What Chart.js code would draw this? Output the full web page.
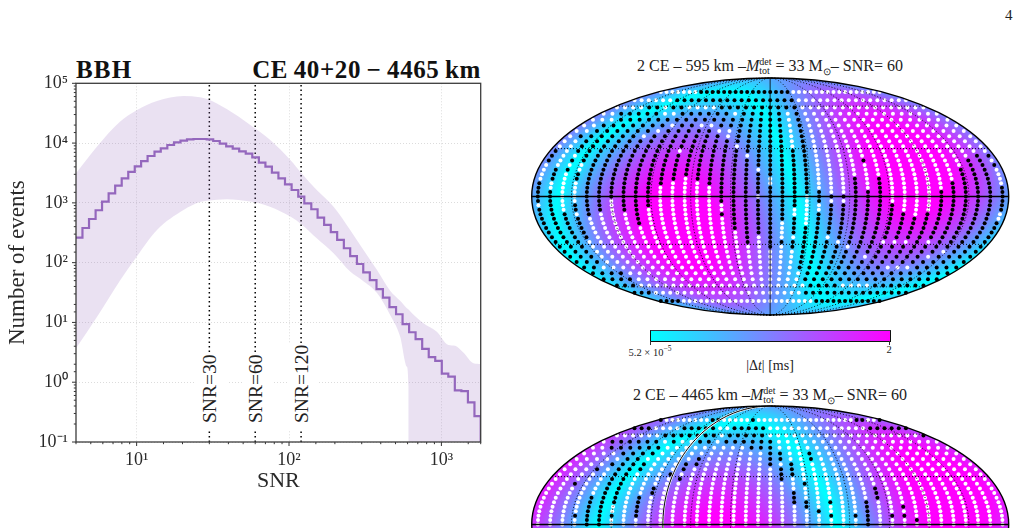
<!DOCTYPE html>
<html>
<head>
<meta charset="utf-8">
<script src="https://cdn.jsdelivr.net/npm/chart.js@4"></script>
<style>
  html, body { margin: 0; padding: 0; background: #fff; width: 1021px; height: 528px; overflow: hidden; }
  body { position: relative; font-family: "Liberation Serif", serif; color: #222; }
  canvas { position: absolute; }
  .txt { position: absolute; white-space: nowrap; line-height: 1; }
  .hd { font-weight: bold; font-size: 25px; color: #111; }
  .snr { font-size: 19.5px; background: #fff; padding: 4px 1px 7px 7px; transform-origin: 0 0; transform: rotate(-90deg); }
  .sky-title { font-size: 16px; transform: translateX(-50%); }
  .stack { display: inline-block; vertical-align: -3px; font-size: 10px; line-height: 9px; text-align: left; }
  .stack span { display: block; }
  #cbar { position: absolute; left: 650px; top: 330px; width: 239px; height: 10px; border: 1px solid #111; border-top-color: #334; background: linear-gradient(to right, #00ffff, #ff00ff); }
  .tick { position: absolute; top: 341px; width: 1px; height: 4px; background: #333; }
</style>
</head>
<body>
<div class="txt" style="left:1005px;top:8px;font-size:15px">4</div>

<div class="txt hd" style="left:76px;top:57px;letter-spacing:1.2px">BBH</div>
<div class="txt hd" style="right:540px;top:57px;letter-spacing:0.6px">CE&#8201;40+20&#8201;−&#8201;4465&#8201;km</div>

<canvas id="snrChart" width="500" height="460" style="left:0;top:50px"></canvas>
<div class="txt snr" style="left:196px;top:430px">SNR=30</div>
<div class="txt snr" style="left:242px;top:430px">SNR=60</div>
<div class="txt snr" style="left:288px;top:430px">SNR=120</div>

<div class="txt sky-title" style="left:770px;top:57px">2 CE – 595 km –<i>M</i><span class="stack"><span>det</span><span>tot</span></span> = 33 M<sub style="font-size:10px">⊙</sub>– SNR= 60</div>
<canvas id="skyTop" width="490" height="254" style="left:525px;top:70px"></canvas>

<div id="cbar"></div>
<div class="tick" style="left:650px"></div>
<div class="tick" style="left:889px"></div>
<div class="txt" style="left:650px;top:345px;font-size:10.5px;transform:translateX(-50%)">5.2 × 10<sup style="font-size:7.5px">−5</sup></div>
<div class="txt" style="left:889px;top:345px;font-size:10.5px;transform:translateX(-50%)">2</div>
<div class="txt" style="left:770px;top:359px;font-size:14px;transform:translateX(-50%)">|Δ<i>t</i>| [ms]</div>

<div class="txt sky-title" style="left:770px;top:386px">2 CE – 4465 km –<i>M</i><span class="stack"><span>det</span><span>tot</span></span> = 33 M<sub style="font-size:10px">⊙</sub>– SNR= 60</div>
<canvas id="skyBottom" width="490" height="254" style="left:525px;top:398px"></canvas>

<script>
// histogram of events per SNR bin
const snrEdges = [4.00, 4.41, 4.87, 5.38, 5.93, 6.55, 7.23, 7.98, 8.81, 9.72, 10.7, 11.8, 13.1, 14.4, 15.9, 17.6, 19.4, 21.4, 23.6, 26.1, 28.8, 31.8, 35.1, 38.7, 42.7, 47.1, 52.0, 57.4, 63.4, 70.0, 77.2, 85.2, 94.1, 104, 115, 126, 140, 154, 170, 188, 207, 229, 252, 279, 307, 339, 375, 413, 456, 504, 556, 614, 677, 748, 826, 911, 1006, 1110, 1225, 1352, 1493, 1648, 1811];
const eventCounts = [262, 380, 537, 752, 1047, 1445, 1940, 2570, 3290, 4070, 5010, 6080, 7180, 8180, 9290, 10300, 10960, 11560, 11700, 11700, 11560, 10840, 9770, 8830, 8060, 7280, 6650, 5780, 4700, 4030, 3200, 2570, 2040, 1640, 1270, 984, 782, 566, 427, 324, 240, 174, 129, 95, 69, 51, 36, 26, 18, 13.7, 9.4, 6.85, 5.24, 3.6, 2.62, 2.27, 1.39, 1.24, 0.73, 0.71, 0.46, 0.27];

// uncertainty band
const bandSnr = [4, 5.5, 7.8, 10, 13.6, 20.3, 26, 29, 39, 55.7, 75, 102, 122, 152, 196, 252, 302, 378, 461, 536, 593, 608, 609, 762, 933, 1112, 1230, 1393, 1622, 1811];
const bandUpper = [3130, 8800, 23000, 35500, 50600, 61400, 58500, 54600, 37000, 20100, 11400, 5210, 3040, 1640, 865, 352, 175, 75, 34, 23, 17.3, 16.5, 16.4, 9.7, 7, 4.2, 4.07, 3.13, 2.08, 2.02];
const bandLower = [3.7, 12.5, 51, 126, 352, 760, 1035, 1090, 1150, 1050, 865, 589, 427, 256, 144, 71, 51, 31, 13.3, 5.8, 1.82, 0.85, 0.1, 0.1, 0.1, 0.1, 0.1, 0.1, 0.1, 0.1];

const snrMarks = [30, 60, 120];

// sky grid: rows from +20 down to -20 (sin lat = row/21), columns -19..19 around lon 0
const skyRowCount = 21;
const skyCols = 19.5;
const gridLats = [-60, -30, 30, 60];
const gridLons = [-150, -120, -90, -60, -30, 30, 60, 90, 120, 150];

// each row: column runs with black dots, the rest of the row is white
const blackRunsTop = [
  [[-12,3]],
  [[-13,3]],
  [[-15,-14],[-12,-11],[-6,3]],
  [[-17,-13],[-10,-5],[-3,1],[3,3]],
  [[-16,1],[3,3]],
  [[-17,-11],[-9,-8],[-5,1],[3,3]],
  [[-17,-12],[-10,-6],[-3,1],[3,3]],
  [[-18,-13],[-11,-5],[-3,1],[3,3]],
  [[-17,1],[3,3]],
  [[-17,-4],[-2,1],[3,3]],
  [[-19,-19],[-17,-9],[-7,3]],
  [[-19,-19],[-16,-3],[-1,3],[18,19]],
  [[-19,-19],[-17,3],[8,8],[17,18]],
  [[-15,3],[17,19]],
  [[-18,-17],[-15,-2],[0,3],[16,18]],
  [[-18,-18],[-16,3],[16,18]],
  [[-18,-18],[-16,-8],[-6,-1],[1,3],[7,7],[9,9],[16,18]],
  [[-19,-19],[-15,-9],[-5,-1],[1,3],[7,7],[9,9],[15,18]],
  [[-19,-19],[-15,-10],[-4,3],[7,7],[9,9],[15,19]],
  [[-19,-18],[-15,-10],[-4,4],[7,9],[14,19]],
  [[-19,-18],[-15,-10],[-4,-2],[0,2],[4,9],[14,19]],
  [[-19,-18],[-15,-14],[-12,-10],[-4,2],[4,4],[7,9],[14,19]],
  [[-18,-18],[-16,-14],[-12,-10],[-3,2],[5,10],[14,19]],
  [[-19,-18],[-16,-14],[-12,-11],[-3,1],[5,10],[14,19]],
  [[-19,-17],[-15,-15],[-11,-11],[-4,1],[4,11],[13,18]],
  [[-19,-16],[-11,-11],[-3,2],[4,18]],
  [[-19,-16],[-11,-11],[-3,0],[2,2],[4,19]],
  [[-19,-16],[-3,0],[2,19]],
  [[-19,-16],[-2,0],[2,19]],
  [[-19,-16],[-2,-2],[0,0],[3,4],[6,19]],
  [[-19,-17],[-2,-2],[0,5],[7,9],[13,13],[15,19]],
  [[-19,-17],[0,0],[2,6],[8,19]],
  [[-19,-17],[3,15],[17,19]],
  [[-19,-17],[3,8],[10,14],[16,19]],
  [[-19,-17],[3,19]],
  [[-19,-18],[3,11],[15,19]],
  [[-19,-16],[4,19]],
  [[-19,-16],[4,19]],
  [[-19,-17],[5,8],[13,19]],
  [[-19,-17],[5,19]],
  [[-19,-16],[8,19]]
];

// lower map runs off the page, only its rows down to -1 are listed
const blackRunsBottom = [
  [[-19,-19],[-10,-9],[-3,-3],[15,16],[19,19]],
  [[-19,-17],[-12,-8],[-5,-1],[14,19]],
  [[-13,-7],[-5,-1],[19,19]],
  [[-18,-13],[-11,-11],[-8,-7],[-5,0]],
  [[-17,-12],[-2,0]],
  [[-15,-12],[0,1],[4,4]],
  [[-14,-13],[-7,-7],[0,1],[4,4]],
  [[-15,-15],[-14,-12],[-8,-7],[0,0],[2,2]],
  [[-16,-16],[-14,-12],[-8,-8],[1,2]],
  [[-14,-13],[-9,-9],[1,2]],
  [[-14,-13],[-8,-8],[1,1]],
  [[-17,-17],[-14,-13],[3,3]],
  [[-14,-13],[-10,-10],[9,9]],
  [[-14,-13],[-10,-10],[2,2],[9,9]],
  [[-15,-13],[-11,-11],[2,2],[9,9]],
  [[-15,-13],[-11,-11],[2,3],[5,5],[8,8]],
  [[-15,-14],[-11,-11],[3,3],[8,8],[11,11]],
  [[-15,-14],[-11,-11],[4,4],[8,8]],
  [[-16,-13],[-11,-11],[5,5],[7,8],[10,11]],
  [[-15,-14],[8,8],[12,12]],
  [[-15,-14],[8,8]]
];

// baseline direction of each detector pair, degrees, and its marked meridian
const baselineTop = { lon: -70, lat: -18 };
const baselineBottom = { lon: -40, lat: -20 };
const solidLonTop = 0;
const solidLonBottom = -81;

const isDecade = (v) => Math.abs(Math.log10(v) - Math.round(Math.log10(v))) < 1e-6;
const supers = { '-': '⁻', '0': '⁰', '1': '¹', '2': '²', '3': '³', '4': '⁴', '5': '⁵' };
const decadeLabel = (v) => {
  if (!isDecade(v)) return '';
  const exp = String(Math.round(Math.log10(v)));
  return '10' + exp.split('').map((c) => supers[c]).join('');
};

// frame plus short minor / longer major ticks, Chart.js only has one tick length
const frameTicks = {
  id: 'frameTicks',
  afterDraw(chart) {
    const { ctx, chartArea: a, scales } = chart;
    ctx.save();
    ctx.strokeStyle = '#333';
    ctx.lineWidth = 1;
    ctx.beginPath();
    scales.x.ticks.forEach((t) => {
      const px = scales.x.getPixelForValue(t.value);
      ctx.moveTo(px, a.bottom);
      ctx.lineTo(px, a.bottom + (isDecade(t.value) ? 4 : 2.2));
    });
    scales.y.ticks.forEach((t) => {
      const py = scales.y.getPixelForValue(t.value);
      ctx.moveTo(a.left, py);
      ctx.lineTo(a.left - (isDecade(t.value) ? 4 : 2.2), py);
    });
    ctx.stroke();
    ctx.lineWidth = 1.3;
    ctx.strokeStyle = '#3c3c3c';
    ctx.strokeRect(a.left, a.top, a.right - a.left, a.bottom - a.top);
    ctx.restore();
  }
};

const stepPoints = snrEdges.slice(0, -1).map((e, i) => ({ x: e, y: eventCounts[i] }));
stepPoints.push({ x: 1811, y: eventCounts[eventCounts.length - 1] }, { x: 1811, y: 0.1 });

const toXY = (xs, ys) => xs.map((x, i) => ({ x: x, y: ys[i] }));

new Chart(document.getElementById('snrChart'), {
  type: 'scatter',
  data: {
    datasets: [
      { data: toXY(bandSnr, bandUpper), showLine: true, cubicInterpolationMode: 'monotone', pointRadius: 0, borderWidth: 0, fill: '+1', backgroundColor: 'rgba(148,103,189,0.2)' },
      { data: toXY(bandSnr, bandLower), showLine: true, cubicInterpolationMode: 'monotone', pointRadius: 0, borderWidth: 0 },
      { data: stepPoints, showLine: true, stepped: true, pointRadius: 0, borderColor: '#9467bd', borderWidth: 2.2 }
    ].concat(snrMarks.map((s) => ({
      data: [{ x: s, y: 0.1 }, { x: s, y: 1e5 }],
      showLine: true, pointRadius: 0, borderColor: '#000', borderWidth: 1.5, borderDash: [1.5, 3]
    })))
  },
  options: {
    responsive: false,
    animation: false,
    layout: { padding: { top: 33.3, right: 19.3, left: 0, bottom: 16 } },
    plugins: { legend: { display: false }, tooltip: { enabled: false } },
    scales: {
      x: {
        type: 'logarithmic', min: 4, max: 1811,
        afterFit: (s) => { s.height = 52; },
        grid: { color: (c) => (c.tick && isDecade(c.tick.value) ? '#dcdcdc' : 'transparent'), lineWidth: 1, tickLength: 4, tickColor: 'transparent' },
        border: { display: false, dash: [1, 2] },
        ticks: { autoSkip: false, maxRotation: 0, padding: 3, color: '#2a2a2a', font: { family: 'Liberation Serif', size: 18 }, callback: decadeLabel },
        title: { display: true, text: 'SNR', color: '#2a2a2a', font: { family: 'Liberation Serif', size: 22 }, padding: 0 }
      },
      y: {
        type: 'logarithmic', min: 0.1, max: 1e5,
        afterFit: (s) => { s.width = 76; },
        grid: { color: (c) => (c.tick && isDecade(c.tick.value) ? '#dcdcdc' : 'transparent'), lineWidth: 1, tickLength: 4, tickColor: 'transparent' },
        border: { display: false, dash: [1, 2] },
        ticks: { autoSkip: false, padding: 4, color: '#2a2a2a', font: { family: 'Liberation Serif', size: 18 }, callback: decadeLabel },
        title: { display: true, text: 'Number of events', color: '#2a2a2a', font: { family: 'Liberation Serif', size: 23 }, padding: 4 }
      }
    }
  },
  plugins: [frameTicks]
});

// Mollweide auxiliary angle for a given sin(lat)
function auxAngle(sinLat) {
  if (Math.abs(sinLat) > 0.999999) return Math.sign(sinLat) * Math.PI / 2;
  let t = Math.asin(sinLat);
  for (let n = 0; n < 30; n++) {
    t -= (2 * t + Math.sin(2 * t) - Math.PI * sinLat) / (2 + 2 * Math.cos(2 * t));
  }
  return t;
}

function skyDots(runs) {
  const black = [];
  const white = [];
  runs.forEach((rowRuns, r) => {
    const t = auxAngle((skyRowCount - 1 - r) / skyRowCount);
    for (let c = -19; c <= 19; c++) {
      const lon = c * 180 / skyCols;
      const p = { x: lon * Math.cos(t), y: Math.sin(t) };
      const isBlack = rowRuns.some((run) => c >= run[0] && c <= run[1]);
      (isBlack ? black : white).push(p);
    }
  });
  return { black, white };
}

// delay colour map: cyan where the pair is blind to the direction, magenta along the baseline
function skyField(baseline) {
  const lon0 = baseline.lon * Math.PI / 180;
  const lat0 = baseline.lat * Math.PI / 180;
  return {
    id: 'skyField',
    beforeDatasetsDraw(chart) {
      const { ctx, chartArea: a, scales } = chart;
      const w = Math.ceil(a.right - a.left);
      const h = Math.ceil(a.bottom - a.top);
      const off = document.createElement('canvas');
      off.width = w;
      off.height = h;
      const octx = off.getContext('2d');
      const img = octx.createImageData(w, h);
      for (let j = 0; j < h; j++) {
        for (let i = 0; i < w; i++) {
          const u = scales.x.getValueForPixel(a.left + i + 0.5) / 180;
          const v = scales.y.getValueForPixel(a.top + j + 0.5);
          if (u * u + v * v > 1.02) continue;
          const th = Math.asin(Math.max(-1, Math.min(1, v)));
          const sinLat = (2 * th + Math.sin(2 * th)) / Math.PI;
          const cosLat = Math.sqrt(Math.max(0, 1 - sinLat * sinLat));
          const lon = Math.PI * u / Math.max(Math.cos(th), 1e-3);
          const d = Math.abs(cosLat * Math.cos(lat0) * Math.cos(lon - lon0) + sinLat * Math.sin(lat0));
          const col = Math.min(1, d * 1.12);
          const k = (j * w + i) * 4;
          img.data[k] = 255 * col;
          img.data[k + 1] = 255 * (1 - col);
          img.data[k + 2] = 255;
          img.data[k + 3] = 255;
        }
      }
      octx.putImageData(img, 0, 0);
      ctx.save();
      ctx.beginPath();
      ctx.ellipse((a.left + a.right) / 2, (a.top + a.bottom) / 2, (a.right - a.left) / 2, (a.bottom - a.top) / 2, 0, 0, 2 * Math.PI);
      ctx.clip();
      ctx.drawImage(off, a.left, a.top, a.right - a.left, a.bottom - a.top);
      ctx.restore();
    }
  };
}

// graticule, equator, marked meridian and outline
function skyGrid(solidLon, halo) {
  return {
    id: 'skyGrid',
    afterDatasetsDraw(chart) {
      const { ctx, chartArea: a, scales } = chart;
      const X = (v) => scales.x.getPixelForValue(v);
      const Y = (v) => scales.y.getPixelForValue(v);
      const meridian = (lon) => {
        ctx.beginPath();
        for (let d = -90; d <= 90; d += 2) {
          const t = d * Math.PI / 180;
          const px = X(lon * Math.cos(t));
          const py = Y(Math.sin(t));
          if (d === -90) ctx.moveTo(px, py); else ctx.lineTo(px, py);
        }
        ctx.stroke();
      };
      ctx.save();
      ctx.strokeStyle = '#000';
      ctx.lineWidth = 0.9;
      ctx.setLineDash([1, 2]);
      gridLons.forEach((lon) => { if (lon !== solidLon) meridian(lon); });
      gridLats.forEach((lat) => {
        const t = auxAngle(Math.sin(lat * Math.PI / 180));
        ctx.beginPath();
        ctx.moveTo(X(-180 * Math.cos(t)), Y(Math.sin(t)));
        ctx.lineTo(X(180 * Math.cos(t)), Y(Math.sin(t)));
        ctx.stroke();
      });
      ctx.setLineDash([]);
      if (halo) {
        ctx.strokeStyle = '#fff';
        ctx.lineWidth = 2.2;
        meridian(solidLon);
        ctx.strokeStyle = '#000';
        ctx.lineWidth = 1;
        meridian(solidLon);
      } else {
        ctx.strokeStyle = 'rgba(0,0,0,0.55)';
        ctx.lineWidth = 1.5;
        meridian(solidLon);
      }
      ctx.strokeStyle = '#000';
      ctx.lineWidth = 1.4;
      ctx.beginPath();
      ctx.moveTo(a.left, Y(0));
      ctx.lineTo(a.right, Y(0));
      ctx.stroke();
      ctx.beginPath();
      ctx.ellipse((a.left + a.right) / 2, (a.top + a.bottom) / 2, (a.right - a.left) / 2, (a.bottom - a.top) / 2, 0, 0, 2 * Math.PI);
      ctx.stroke();
      ctx.restore();
    }
  };
}

function drawSky(id, runs, baseline, solidLon, halo) {
  const dots = skyDots(runs);
  new Chart(document.getElementById(id), {
    type: 'scatter',
    data: {
      datasets: [
        { data: dots.white, pointRadius: 2, pointBorderWidth: 0, pointBackgroundColor: '#fff', clip: false },
        { data: dots.black, pointRadius: 2, pointBorderWidth: 0, pointBackgroundColor: '#000', clip: false }
      ]
    },
    options: {
      responsive: false,
      animation: false,
      layout: { padding: { left: 6.7, right: 6.3, top: 8, bottom: 9 } },
      plugins: { legend: { display: false }, tooltip: { enabled: false } },
      scales: {
        x: { type: 'linear', min: -180, max: 180, display: false },
        y: { type: 'linear', min: -1, max: 1, display: false }
      }
    },
    plugins: [skyField(baseline), skyGrid(solidLon, halo)]
  });
}

drawSky('skyTop', blackRunsTop, baselineTop, solidLonTop, false);
drawSky('skyBottom', blackRunsBottom, baselineBottom, solidLonBottom, true);
</script>
</body>
</html>
